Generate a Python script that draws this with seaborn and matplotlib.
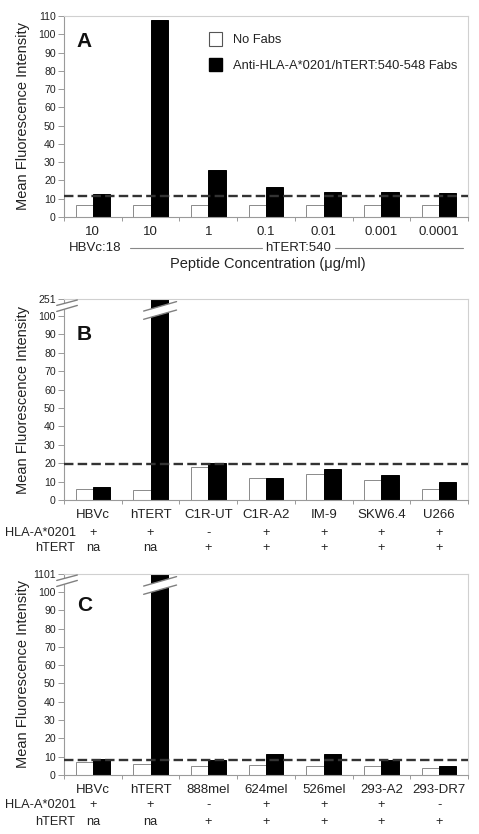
import numpy as np
import pandas as pd
import matplotlib
matplotlib.use('Agg')
import matplotlib.pyplot as plt
import matplotlib.patches as mpatches
import matplotlib.transforms as mtransforms
import seaborn as sns

sns.set_style('white')
plt.rcParams['font.family'] = ['Liberation Sans', 'DejaVu Sans']
plt.rcParams['text.color'] = '#222222'

treatments = ['No Fabs', 'Anti-HLA-A*0201/hTERT:540-548 Fabs']

# panel A
a_groups = ['HBVc 10', 'hTERT 10', 'hTERT 1', 'hTERT 0.1', 'hTERT 0.01', 'hTERT 0.001', 'hTERT 0.0001']
a_ticklabels = ['10', '10', '1', '0.1', '0.01', '0.001', '0.0001']
a_nofab = [6.5, 6.3, 6.3, 6.3, 6.3, 6.3, 6.3]
a_fab = [12.6, 108, 25.5, 16.5, 13.9, 13.5, 13.0]
a_cutoff = 11.7

# panel B
b_groups = ['HBVc', 'hTERT', 'C1R-UT', 'C1R-A2', 'IM-9', 'SKW6.4', 'U266']
b_nofab = [5.9, 5.4, 18.1, 12.0, 14.3, 10.9, 5.9]
b_fab = [6.9, 251, 20.2, 12.0, 17.0, 13.7, 9.8]
b_cutoff = 19.6
b_hla = ['+', '+', '-', '+', '+', '+', '+']
b_htert = ['na', 'na', '+', '+', '+', '+', '+']

# panel C
c_groups = ['HBVc', 'hTERT', '888mel', '624mel', '526mel', '293-A2', '293-DR7']
c_nofab = [7.0, 6.2, 5.0, 5.5, 5.0, 5.0, 3.9]
c_fab = [9.0, 1101, 8.1, 11.4, 11.4, 8.1, 5.1]
c_cutoff = 8.3
c_hla = ['+', '+', '-', '+', '+', '+', '-']
c_htert = ['na', 'na', '+', '+', '+', '+', '+']


def make_df(groups, nofab, fab):
    return pd.DataFrame({
        'group': groups * 2,
        'treatment': [treatments[0]] * len(groups) + [treatments[1]] * len(groups),
        'mfi': list(nofab) + list(fab),
    })


def broken_scale(top, room):
    k = room / (top - 100)
    fwd = lambda y: np.where(np.asarray(y) <= 100, y, 100 + (np.asarray(y) - 100) * k)
    inv = lambda y: np.where(np.asarray(y) <= 100, y, 100 + (np.asarray(y) - 100) / k)
    return fwd, inv


def draw_panel(ax, df, cutoff, letter, letter_y):
    sns.barplot(data=df, x='group', y='mfi', hue='treatment', palette=['white', 'black'],
                width=0.6, saturation=1, legend=False, ax=ax, zorder=2)
    for p in ax.patches:
        fc = p.get_facecolor()
        if fc[0] > 0.5:
            p.set_edgecolor('#8a8a8a')
            p.set_linewidth(0.7)
        else:
            p.set_edgecolor('black')
            p.set_linewidth(0.7)
    ax.axhline(cutoff, color='#333333', lw=1.7, ls=(0, (4, 1.8)), zorder=3)
    ax.set_xlim(-0.5, len(df['group'].unique()) - 0.5)
    ax.set_xlabel('')
    ax.set_ylabel('Mean Fluorescence Intensity', fontsize=10.5, color='#222222')
    ax.yaxis.set_label_coords(-0.084, 0.5)
    for s in ['top', 'right']:
        ax.spines[s].set_color('#d0d0d0')
        ax.spines[s].set_linewidth(0.8)
    for s in ['left', 'bottom']:
        ax.spines[s].set_color('#9a9a9a')
        ax.spines[s].set_linewidth(0.8)
    ax.tick_params(axis='y', which='major', length=4, width=0.7, color='#9a9a9a',
                   labelsize=7.6, labelcolor='#222222', direction='out', left=True, pad=2)
    ax.tick_params(axis='x', which='major', length=0, labelsize=9.5, labelcolor='#222222', pad=6.5)
    ax.set_xticks(np.arange(len(df['group'].unique()) + 1) - 0.5, minor=True)
    ax.tick_params(axis='x', which='minor', length=3, width=0.7, color='#9a9a9a', bottom=True)
    ax.text(0.032, letter_y, letter, transform=ax.transAxes, fontsize=15,
            fontweight='bold', va='baseline', ha='left', color='#111111')


def draw_break(ax):
    # break marks on the left axis and across the tallest bar
    tall = max(ax.patches, key=lambda p: p.get_height())
    xc = tall.get_x() + tall.get_width() / 2
    blend = mtransforms.blended_transform_factory(ax.transData, ax.transAxes)
    x0, x1 = xc - 0.27, xc + 0.30
    up = ((x0, 0.940), (x1, 0.987))
    lo = ((x0, 0.899), (x1, 0.945))
    ax.add_patch(mpatches.Polygon([up[0], up[1], lo[1], lo[0]], closed=True, facecolor='white',
                                  edgecolor='none', transform=blend, zorder=4))
    for seg in (up, lo):
        ax.plot([seg[0][0], seg[1][0]], [seg[0][1], seg[1][1]], color='#808080', lw=1.0,
                transform=blend, zorder=5)
    lx0, lx1 = -0.018, 0.033
    lup = ((lx0, 0.968), (lx1, 0.995))
    llo = ((lx0, 0.938), (lx1, 0.968))
    ax.add_patch(mpatches.Polygon([lup[0], lup[1], llo[1], llo[0]], closed=True, facecolor='white',
                                  edgecolor='none', transform=ax.transAxes, zorder=4, clip_on=False))
    for seg in (lup, llo):
        ax.plot([seg[0][0], seg[1][0]], [seg[0][1], seg[1][1]], color='#808080', lw=1.0,
                transform=ax.transAxes, zorder=5, clip_on=False)


def draw_rows(ax, hla, htert, y_hla, y_htert):
    blend = mtransforms.blended_transform_factory(ax.transData, ax.transAxes)
    ax.text(-0.3, y_hla, 'HLA-A*0201', transform=blend, ha='right', va='center', fontsize=9.2)
    ax.text(-0.3, y_htert, 'hTERT', transform=blend, ha='right', va='center', fontsize=9.2)
    for i, (h, t) in enumerate(zip(hla, htert)):
        ax.text(i, y_hla, h, transform=blend, ha='center', va='center', fontsize=9.2)
        ax.text(i, y_htert, t, transform=blend, ha='center', va='center', fontsize=9.2)


fig = plt.figure(figsize=(4.79, 8.34), dpi=100)
W, H = 479, 834
left, width, height = 64 / W, 404 / W, 201 / H

# ---- A
axA = fig.add_axes([left, 1 - 217 / H, width, height])
draw_panel(axA, make_df(a_groups, a_nofab, a_fab), a_cutoff, 'A', 0.846)
axA.set_ylim(0, 110)
axA.set_yticks(np.arange(0, 111, 10))
axA.set_xticks(range(len(a_groups)))
axA.set_xticklabels(a_ticklabels)
blendA = mtransforms.blended_transform_factory(axA.transData, axA.transAxes)
axA.text(0.04, -0.152, 'HBVc:18', transform=blendA, ha='center', va='center', fontsize=9.5)
axA.text(3.56, -0.152, 'hTERT:540', transform=blendA, ha='center', va='center', fontsize=9.5)
axA.plot([0.64, 2.93], [-0.152, -0.152], color='#888888', lw=0.8, transform=blendA, clip_on=False)
axA.plot([4.19, 6.41], [-0.152, -0.152], color='#888888', lw=0.8, transform=blendA, clip_on=False)
axA.text(3.04, -0.236, 'Peptide Concentration (\u03bcg/ml)', transform=blendA,
         ha='center', va='center', fontsize=10.5)
handles = [mpatches.Patch(facecolor='white', edgecolor='#555555', lw=0.8),
           mpatches.Patch(facecolor='black', edgecolor='black')]
axA.legend(handles, treatments, loc='upper left', bbox_to_anchor=(0.358, 0.918), frameon=False,
           fontsize=9.3, handlelength=1.0, handleheight=1.2, handletextpad=0.9,
           labelspacing=0.9, borderpad=0, borderaxespad=0)

# ---- B
axB = fig.add_axes([left, 1 - 500 / H, width, height])
fwd, inv = broken_scale(251, 9.2)
axB.set_yscale('function', functions=(fwd, inv))
draw_panel(axB, make_df(b_groups, b_nofab, b_fab), b_cutoff, 'B', 0.796)
axB.set_ylim(0, 251)
axB.set_yticks(list(range(0, 101, 10)) + [251])
axB.set_yticklabels([str(v) for v in range(0, 101, 10)] + ['251'])
draw_break(axB)
draw_rows(axB, b_hla, b_htert, -0.163, -0.238)

# ---- C
axC = fig.add_axes([left, 1 - 775 / H, width, height])
fwd, inv = broken_scale(1101, 9.8)
axC.set_yscale('function', functions=(fwd, inv))
draw_panel(axC, make_df(c_groups, c_nofab, c_fab), c_cutoff, 'C', 0.816)
axC.set_ylim(0, 1101)
axC.set_yticks(list(range(0, 101, 10)) + [1101])
axC.set_yticklabels([str(v) for v in range(0, 101, 10)] + ['1101'])
draw_break(axC)
draw_rows(axC, c_hla, c_htert, -0.148, -0.233)

fig.savefig('out.png', dpi=100, facecolor='white')
